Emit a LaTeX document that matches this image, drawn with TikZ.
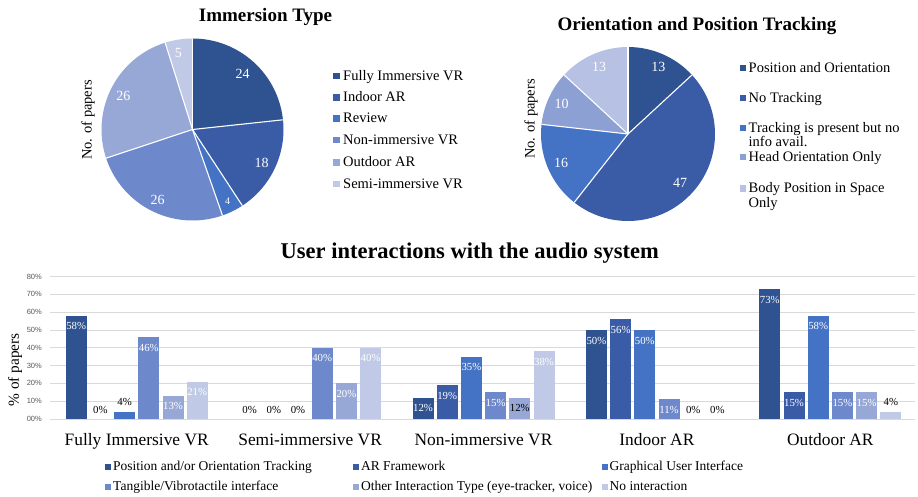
\documentclass[tikz,border=0pt]{standalone}
\usepackage{fontspec}
\setmainfont{Liberation Serif}
\newfontfamily\tickfont{Liberation Sans}
\definecolor{b0}{HTML}{2F5290}
\definecolor{b1}{HTML}{3A5BA5}
\definecolor{b2}{HTML}{4472C4}
\definecolor{b3}{HTML}{6E89CB}
\definecolor{b4}{HTML}{98A8D6}
\definecolor{b5}{HTML}{C0CAE6}
\definecolor{p4}{HTML}{8DA0D4}
\definecolor{p5}{HTML}{B6C1E3}
\definecolor{gridc}{HTML}{D9D9D9}
\definecolor{tickc}{HTML}{595959}
\newcommand{\fsz}[1]{\fontsize{#1}{#1}\selectfont}
\newcommand{\myslice}[6]{%
  \fill[#6] (#1,#2) -- ++(#4:#3) arc[start angle=#4, end angle=#5, radius=#3] -- cycle;}
\newcommand{\mysep}[4]{\draw[white, line width=1.1pt] (#1,#2) -- ++(#4:#3);}
\tikzset{
  ttl/.style={font=\fsz{19}\bfseries, anchor=base, inner sep=0},
  legtxt/.style={font=\fsz{14.5}, anchor=base west, inner sep=0},
  pielbl/.style={font=\fsz{14}, text=white, inner sep=0},
  axlbl/.style={font=\fsz{14.5}, rotate=90, inner sep=0},
  ticklbl/.style={font=\tickfont\fsz{7.5}, text=tickc, anchor=east, inner sep=0},
  grp/.style={font=\fsz{17.4}, anchor=base, inner sep=0},
  bleg/.style={font=\fsz{13.5}, anchor=base west, inner sep=0},
  lin/.style={font=\fsz{10.8}, text=white, inner sep=0, yshift=-10.5pt},
  ldk/.style={font=\fsz{10.8}, text=black, inner sep=0, yshift=-10.5pt},
  lout/.style={font=\fsz{10.8}, text=black, inner sep=0, yshift=9.5pt},
}
\begin{document}
\begin{tikzpicture}[x=1pt,y=-1pt]
\useasboundingbox (0,0) rectangle (918,496);
\fill[white] (0,0) rectangle (918,496);

% ---------- Pie 1: Immersion Type ----------
\node[ttl] (t1) at (265.5,21.7) {Immersion Type};
\myslice{192.5}{129.5}{91}{-90}{-6.12}{b0}
\myslice{192.5}{129.5}{91}{-6.12}{56.79}{b1}
\myslice{192.5}{129.5}{91}{56.79}{70.77}{b2}
\myslice{192.5}{129.5}{91}{70.77}{161.64}{b3}
\myslice{192.5}{129.5}{91}{161.64}{252.52}{b4}
\myslice{192.5}{129.5}{91}{252.52}{270}{b5}
\foreach \a in {-90,-6.12,56.79,70.77,161.64,252.52}{\mysep{192.5}{129.5}{91}{\a}}
\node[pielbl] (a1) at (242.7,74) {24};
\node[pielbl] (a2) at (261.7,163.3) {18};
\node[pielbl, font=\fsz{10}] (a3) at (227.7,201.7) {4};
\node[pielbl] (a4) at (157.7,200) {26};
\node[pielbl] (a5) at (123.3,95.7) {26};
\node[pielbl] (a6) at (178.3,53.3) {5};
\node[axlbl] (y1) at (88,120) {No. of papers};
\foreach \c/\yy/\t [count=\i] in {b0/76/Fully Immersive VR, b1/97.3/Indoor AR, b2/118.3/Review, b3/140/Non-immersive VR, b4/162.3/Outdoor AR, b5/184/Semi-immersive VR}{
  \fill[\c] (333,\yy-3.2) rectangle (339.6,\yy+3.2);
  \node[legtxt] (la\i) at (343,\yy+4.3) {\t};
}

% ---------- Pie 2: Orientation and Position Tracking ----------
\node[ttl] (t2) at (697,30) {Orientation and Position Tracking};
\myslice{628}{134}{87}{-90}{-42.73}{b0}
\myslice{628}{134}{87}{-42.73}{128.18}{b1}
\myslice{628}{134}{87}{128.18}{186.36}{b2}
\myslice{628}{134}{87}{186.36}{222.73}{p4}
\myslice{628}{134}{87}{222.73}{270}{p5}
\foreach \a in {-90,-42.73,128.18,186.36,222.73}{\mysep{628}{134}{87}{\a}}
\node[pielbl] (c1) at (658.3,66.7) {13};
\node[pielbl] (c2) at (680,182.7) {47};
\node[pielbl] (c3) at (561,163.3) {16};
\node[pielbl] (c4) at (561.7,104) {10};
\node[pielbl] (c5) at (599,66.7) {13};
\node[axlbl] (y2) at (531,119) {No. of papers};
\fill[b0] (739.7,64.5) rectangle (746.3,70.9);
\node[legtxt] (lb1) at (748.5,72.2) {Position and Orientation};
\fill[b1] (739.7,94.5) rectangle (746.3,100.9);
\node[legtxt] (lb2) at (748.5,102.2) {No Tracking};
\fill[b2] (739.7,124.5) rectangle (746.3,130.9);
\node[legtxt] (lb3) at (748.5,132.2) {Tracking is present but no};
\node[legtxt] (lb3b) at (748.5,146.4) {info avail.};
\fill[p4] (739.7,153.5) rectangle (746.3,159.9);
\node[legtxt] (lb4) at (748.5,161.2) {Head Orientation Only};
\fill[p5] (739.7,185.1) rectangle (746.3,191.5);
\node[legtxt] (lb5) at (748.5,192.8) {Body Position in Space};
\node[legtxt] (lb5b) at (748.5,207.8) {Only};

% ---------- Bar chart ----------
\node[ttl, font=\fsz{22.5}\bfseries] (t3) at (469.7,258.3) {User interactions with the audio system};
\foreach \k in {0,...,8}{
  \pgfmathsetmacro\gy{419-17.8*\k}
  \draw[gridc, line width=0.8pt] (50,\gy) -- (915,\gy);
  \node[ticklbl] (tk\k) at (42,\gy) {\k0\%};
}
\node[axlbl, font=\fsz{15.3}] (y3) at (15,370) {\% of papers};
\foreach \g/\s/\v/\st in {
  0/0/58/lin,0/1/0/lout,0/2/4/lout,0/3/46/lin,0/4/13/lin,0/5/21/lin,
  1/0/0/lout,1/1/0/lout,1/2/0/lout,1/3/40/lin,1/4/20/lin,1/5/40/lin,
  2/0/12/lin,2/1/19/lin,2/2/35/lin,2/3/15/lin,2/4/12/ldk,2/5/38/lin,
  3/0/50/lin,3/1/56/lin,3/2/50/lin,3/3/11/lin,3/4/0/lout,3/5/0/lout,
  4/0/73/lin,4/1/15/lin,4/2/58/lin,4/3/15/lin,4/4/15/lin,4/5/4/lout}{
  \pgfmathsetmacro\xl{65.7+173.4*\g+24.2*\s}
  \pgfmathsetmacro\xr{\xl+21}
  \pgfmathsetmacro\xc{\xl+10.5}
  \pgfmathsetmacro\yt{419-1.78*\v}
  \ifnum\v>0 \fill[b\s] (\xl,419) rectangle (\xr,\yt); \fi
  \node[\st] (v\g\s) at (\xc,\yt) {\v\%};
}
\foreach \t [count=\i from 0] in {Fully Immersive VR, Semi-immersive VR, Non-immersive VR, Indoor AR, Outdoor AR}{
  \pgfmathsetmacro\gx{136.7+173.4*\i}
  \node[grp] (g\i) at (\gx,445.3) {\t};
}
\foreach \c/\xx/\yy/\t [count=\i] in {
  b0/108/466.7/{Position and/or Orientation Tracking},
  b1/355.8/466.7/{AR Framework},
  b2/604.5/466.7/{Graphical User Interface},
  b3/108/486.7/{Tangible/Vibrotactile interface},
  b4/355.8/486.7/{Other Interaction Type (eye-tracker, voice)},
  b5/604.5/486.7/{No interaction}}{
  \fill[\c] (\xx-3,\yy-3) rectangle (\xx+3,\yy+3);
  \node[bleg] (lg\i) at (\xx+5,\yy+4.1) {\t};
}
\end{tikzpicture}
\end{document}
